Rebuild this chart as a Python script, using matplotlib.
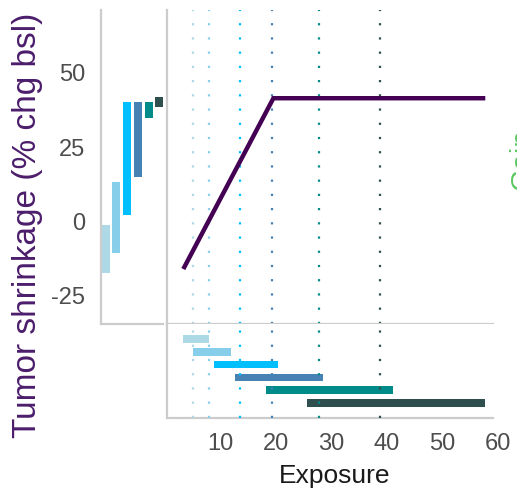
import matplotlib
matplotlib.use("Agg")
import matplotlib.pyplot as plt

plt.rcParams["font.family"] = ["Liberation Sans", "DejaVu Sans"]

# Exposure quantile groups (colour per group)
group_colors = ["#ADD8E6", "#87CEEB", "#00BFFF", "#4682B4", "#008B8B", "#2F4F4F"]

# Exposure range of each group
exposure_lo = [3.4, 5.1, 8.9, 12.7, 18.3, 25.6]
exposure_hi = [8.1, 12.0, 20.4, 28.5, 41.1, 57.7]
# Median exposure of each group
exposure_median = [5.1, 8.0, 13.6, 19.4, 27.8, 38.8]

# Predicted response range of each group
response_lo = [-17.3, -10.6, 2.2, 15.0, 34.8, 38.5]
response_hi = [-1.2, 13.3, 40.2, 40.2, 40.2, 41.9]

# Exposure-response curve
curve_x = [3.4, 19.6, 57.7]
curve_y = [-16.0, 41.5, 41.5]

y_ticks = [-25, 0, 25, 50]
y_tick_labels = ["-25", "0", "25", "50"]
x_ticks = [10, 20, 30, 40, 50, 60]

W, H = 517, 495
fig = plt.figure(figsize=(W / 100, H / 100), dpi=100)


def px_axes(x0, y0, x1, y1):
    return fig.add_axes([x0 / W, 1 - y1 / H, (x1 - x0) / W, (y1 - y0) / H])


spine_color = "#cccccc"
spine_lw = 1.6
tick_color = "#4d4d4d"
ylim = (-34.5, 71.2)
xlim = (0.47, 63.4)
x_spine_end = 59.1

# Left margin panel: response range per group
ax_r = px_axes(101, 10, 163, 324)
positions = list(range(1, len(group_colors) + 1))
ax_r.bar(positions, [h - l for l, h in zip(response_lo, response_hi)],
         bottom=response_lo, width=0.74, color=group_colors, linewidth=0)
ax_r.set_xlim(0.58, 6.33)
ax_r.set_ylim(*ylim)
ax_r.set_xticks([])
ax_r.set_yticks(y_ticks)
ax_r.set_yticklabels(y_tick_labels)
ax_r.tick_params(axis="y", length=0, pad=11.5, labelsize=17, labelcolor=tick_color)
for side in ["top", "right"]:
    ax_r.spines[side].set_visible(False)
for side in ["left", "bottom"]:
    ax_r.spines[side].set_color(spine_color)
    ax_r.spines[side].set_linewidth(spine_lw)

# Main panel: exposure-response curve
ax_m = px_axes(167, 10, W, 324)
dot_style = (0, (1, 5.4))
for xm, c in zip(exposure_median, group_colors):
    ax_m.axvline(xm, color=c, linestyle=dot_style, linewidth=1.6, zorder=1)
ax_m.plot(curve_x, curve_y, color="#440154", linewidth=3.2,
          solid_capstyle="butt", solid_joinstyle="miter", zorder=3)
ax_m.set_xlim(*xlim)
ax_m.set_ylim(*ylim)
ax_m.set_xticks([])
ax_m.set_yticks([])
for side in ["top", "right"]:
    ax_m.spines[side].set_visible(False)
for side in ["left", "bottom"]:
    ax_m.spines[side].set_color(spine_color)
    ax_m.spines[side].set_linewidth(spine_lw)
ax_m.spines["bottom"].set_bounds(xlim[0], x_spine_end)

# Bottom panel: exposure range per group
ax_e = px_axes(167, 324, W, 418)
ax_e.barh(positions, [h - l for l, h in zip(exposure_lo, exposure_hi)],
          left=exposure_lo, height=0.6, color=group_colors, linewidth=0, zorder=2)
for xm, c in zip(exposure_median, group_colors):
    ax_e.axvline(xm, color=c, linestyle=dot_style, linewidth=1.6, zorder=3)
ax_e.set_xlim(*xlim)
ax_e.set_ylim(7.2, -0.2)
ax_e.set_yticks([])
ax_e.set_xticks(x_ticks)
ax_e.tick_params(axis="x", length=0, pad=10.5, labelsize=17, labelcolor=tick_color)
for side in ["top", "right"]:
    ax_e.spines[side].set_visible(False)
for side in ["left", "bottom"]:
    ax_e.spines[side].set_color(spine_color)
    ax_e.spines[side].set_linewidth(spine_lw)
ax_e.spines["bottom"].set_bounds(xlim[0], x_spine_end)

# Axis titles
fig.text(334.5 / W, 1 - 476 / H, "Exposure", ha="center", va="center",
         fontsize=19, color="#1a1a1a")
fig.text(28 / W, 1 - 225 / H, "Tumor shrinkage (% chg bsl)", rotation=90,
         ha="center", va="center", fontsize=24, color="#4b1d6b")
# Colour legend title, running off the right edge
fig.text(508 / W, 1 - 190 / H, "Gain", rotation=90, ha="left", va="bottom",
         fontsize=21, color="#5dc863")

fig.savefig("out.png", dpi=100)
